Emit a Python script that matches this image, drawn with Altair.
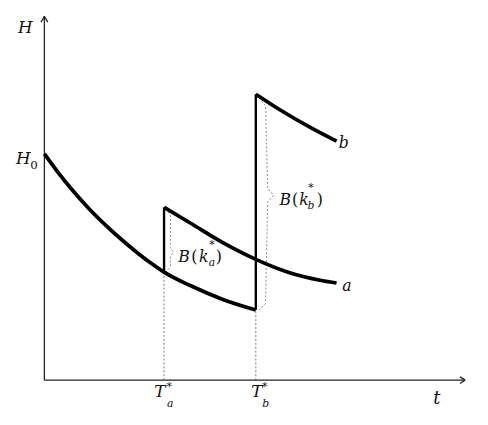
import altair as alt
import pandas as pd

# ---- curve data (t, H) ----
# path b: starts at H0, decays until T_b*, (jump), then continues
b_t = [0, 0.35, 0.65, 1.05, 1.44, 1.81, 2.21, 2.60, 2.83, 3.45, 4.22, 5.0]
b_H = [6.22, 5.67, 5.24, 4.72, 4.27, 3.88, 3.49, 3.15, 2.97, 2.60, 2.22, 1.93]

b_high_t = [5.0, 5.53, 6.33, 6.91]
b_high_H = [7.86, 7.46, 6.92, 6.57]

# path a after its jump at T_a*
a_t = [2.83, 3.45, 4.22, 5.0, 5.78, 6.55, 6.91]
a_H = [4.75, 4.32, 3.78, 3.32, 2.96, 2.74, 2.67]

# jumps: (t, from H, to H)
jump_t = [2.83, 5.0]
jump_lo = [2.97, 1.93]
jump_hi = [4.75, 7.86]

# dotted braces
brace_a_t = [2.86, 2.98, 2.98, 3.05, 2.98, 2.98, 2.86]
brace_a_H = [4.70, 4.54, 3.65, 3.51, 3.41, 3.11, 2.95]
brace_b_t = [5.07, 5.23, 5.28, 5.42, 5.28, 5.23, 5.07]
brace_b_H = [7.76, 7.54, 5.27, 5.08, 4.89, 2.11, 1.92]

# axis segments and arrow heads: (x, y, x2, y2)
axis_x1 = [0, 0, 0, 0, 9.95, 9.95]
axis_y1 = [0, 0, 10, 10, 0, 0]
axis_x2 = [0, 9.95, -0.08, 0.08, 9.83, 9.83]
axis_y2 = [10, 0, 9.84, 9.84, 0.09, -0.09]

# labels
it_text = ["H", "H", "a", "b", "t", "T", "a", "*", "T", "b", "*",
           "B", "k", "a", "*", "B", "k", "b", "*"]
it_t = [-0.453, -0.5, 7.156, 7.081, 9.279, 2.733, 2.977, 2.953, 5.023, 5.233, 5.209,
        3.302, 3.768, 3.965, 3.965, 5.698, 6.140, 6.302, 6.302]
it_H = [9.541, 5.946, 2.446, 6.378, -0.649, -0.459, -0.730, -0.270, -0.459, -0.730, -0.270,
        3.243, 3.243, 3.135, 3.620, 4.811, 4.811, 4.703, 5.189]
it_size = [17, 17, 16, 16, 18, 17, 11, 11, 17, 11, 11,
           16, 16, 11, 11, 16, 16, 11, 11]

up_text = ["0", "(", ")", "(", ")"]
up_t = [-0.244, 3.547, 4.128, 5.930, 6.512]
up_H = [5.81, 3.243, 3.243, 4.811, 4.811]
up_size = [12, 16, 16, 16, 16]

# ---- tables ----
rows = []
for name, ts, hs in [("b", b_t, b_H), ("a", a_t, a_H), ("bh", b_high_t, b_high_H)]:
    for t, h in zip(ts, hs):
        rows.append({"seg": name, "t": t, "H": h})
curves = pd.DataFrame(rows)

jumps = pd.DataFrame({"t": jump_t, "H": jump_lo, "H2": jump_hi})
drops = pd.DataFrame({"t": jump_t, "H": [0, 0], "H2": jump_lo})

brows = []
for name, ts, hs in [("a", brace_a_t, brace_a_H), ("b", brace_b_t, brace_b_H)]:
    for i, (t, h) in enumerate(zip(ts, hs)):
        brows.append({"br": name, "i": i, "t": t, "H": h})
braces = pd.DataFrame(brows)

axes = pd.DataFrame({"t": axis_x1, "H": axis_y1, "t2": axis_x2, "H2": axis_y2})
it_df = pd.DataFrame({"txt": it_text, "t": it_t, "H": it_H, "fs": it_size})
up_df = pd.DataFrame({"txt": up_text, "t": up_t, "H": up_H, "fs": up_size})

X = alt.X("t:Q", scale=alt.Scale(domain=[0, 10], nice=False, zero=False), axis=None)
Y = alt.Y("H:Q", scale=alt.Scale(domain=[0, 10], nice=False, zero=False), axis=None)

FONT = "DejaVu Serif"

axis_layer = alt.Chart(axes).mark_rule(color="#222", strokeWidth=1.3).encode(
    x=X, y=Y, x2="t2:Q", y2="H2:Q")

drop_layer = alt.Chart(drops).mark_rule(color="#777", strokeWidth=1, strokeDash=[2, 2]).encode(
    x=X, y=Y, y2="H2:Q")

brace_layer = alt.Chart(braces).mark_line(color="#888", strokeWidth=1, strokeDash=[2, 2]).encode(
    x=X, y=Y, detail="br:N", order="i:Q")

curve_layer = alt.Chart(curves).mark_line(color="black", strokeWidth=3.8, interpolate="monotone").encode(
    x=X, y=Y, detail="seg:N")

jump_layer = alt.Chart(jumps).mark_rule(color="black", strokeWidth=2.4).encode(
    x=X, y=Y, y2="H2:Q")

it_layer = alt.Chart(it_df).mark_text(font=FONT, fontStyle="italic", color="#111",
                                      align="center", baseline="alphabetic").encode(
    x=X, y=Y, text="txt:N", size=alt.Size("fs:Q", scale=None, legend=None))

up_layer = alt.Chart(up_df).mark_text(font=FONT, color="#111",
                                      align="center", baseline="alphabetic").encode(
    x=X, y=Y, text="txt:N", size=alt.Size("fs:Q", scale=None, legend=None))

chart = alt.layer(axis_layer, drop_layer, brace_layer, curve_layer, jump_layer, it_layer, up_layer).properties(
    width=430, height=370,
    padding={"left": 37, "top": 5, "right": 13, "bottom": 34},
    autosize=alt.AutoSizeParams(type="none"),
    background="white",
).configure_view(stroke=None)

chart.save("out.html", embed_options={"renderer": "svg", "actions": False})
